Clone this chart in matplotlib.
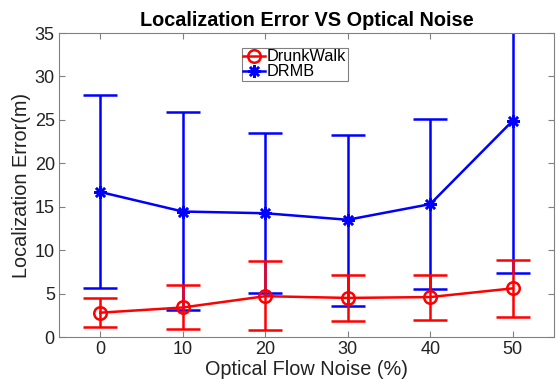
import numpy as np
import matplotlib
matplotlib.use('Agg')
import matplotlib.pyplot as plt
from matplotlib.lines import Line2D

plt.rcParams['font.family'] = ['Liberation Sans', 'DejaVu Sans']

noise = [0, 10, 20, 30, 40, 50]

# DrunkWalk: mean, lower end, upper end
dw_mean = [2.8, 3.4, 4.7, 4.5, 4.6, 5.6]
dw_low = [1.15, 0.95, 0.75, 1.85, 2.0, 2.35]
dw_high = [4.5, 5.95, 8.8, 7.15, 7.15, 8.9]

# DRMB
drmb_mean = [16.7, 14.45, 14.25, 13.5, 15.3, 24.9]
drmb_low = [5.65, 3.15, 5.05, 3.6, 5.55, 7.4]
drmb_high = [27.85, 25.9, 23.5, 23.3, 25.05, 42.0]


def err(mean, low, high):
    m = np.array(mean)
    return [m - np.array(low), np.array(high) - m]


fig = plt.figure(figsize=(5.58, 3.79), dpi=100)
ax = fig.add_axes([0.1057, 0.1108, 0.887, 0.802])

lw = 1.8
dw_style = dict(color='#ff0000', marker='o', markersize=9, markerfacecolor='none',
                markeredgewidth=lw, linewidth=lw)
drmb_style = dict(color='#0000ff', marker=(8, 2, 0), markersize=9,
                  markeredgewidth=lw, linewidth=lw)

ax.errorbar(noise, dw_mean, yerr=err(dw_mean, dw_low, dw_high), elinewidth=lw,
            capsize=12.5, capthick=lw, zorder=3, **dw_style)
ax.errorbar(noise, drmb_mean, yerr=err(drmb_mean, drmb_low, drmb_high), elinewidth=lw,
            capsize=12.5, capthick=lw, zorder=2, **drmb_style)

ax.set_xlim(-5, 55)
ax.set_ylim(0, 35)
ax.set_xticks(noise)
ax.set_yticks(range(0, 36, 5))
ax.tick_params(direction='in', top=True, right=True, labelsize=13,
               color='#808080', length=4, labelcolor='#222222', pad=3)
for s in ax.spines.values():
    s.set_color('#808080')
    s.set_linewidth(0.8)

ax.set_title('Localization Error VS Optical Noise', fontsize=14.3, fontweight='bold', pad=5)
ax.set_xlabel('Optical Flow Noise (%)', fontsize=14.3, labelpad=1, color='#222222')
ax.set_ylabel('Localization Error(m)', fontsize=14.3, labelpad=3, color='#222222')

handles = [Line2D([], [], **dw_style), Line2D([], [], **drmb_style)]
leg = ax.legend(handles, ['DrunkWalk', 'DRMB'], loc='upper left',
                bbox_to_anchor=(241.5 / 558, 1 - 47.5 / 379),
                bbox_transform=fig.transFigure, fontsize=11.7, fancybox=False,
                framealpha=1, edgecolor='#808080', borderpad=0.12, labelspacing=0.0,
                handlelength=1.3, handletextpad=0.12, borderaxespad=0)
leg.get_frame().set_linewidth(0.8)

fig.savefig('out.png', dpi=100)
